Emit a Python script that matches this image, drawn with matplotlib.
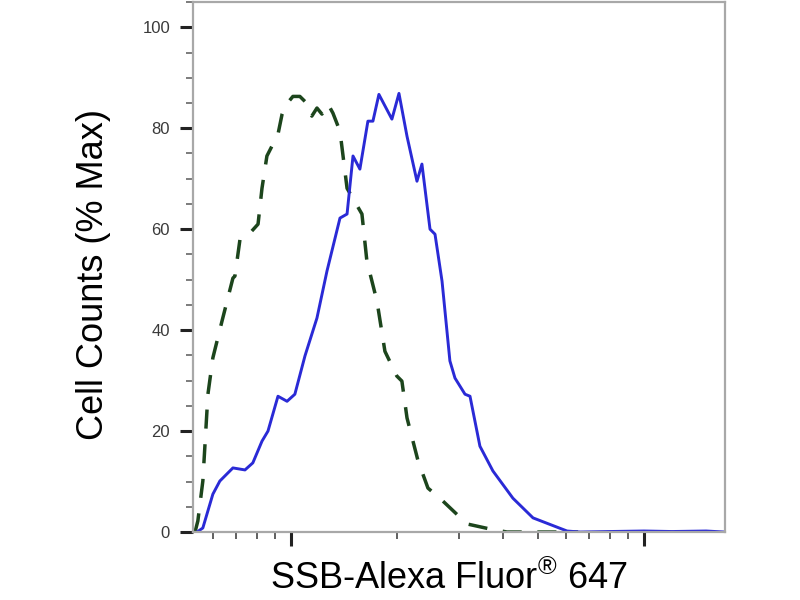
import matplotlib
matplotlib.use("Agg")
import matplotlib.pyplot as plt
from matplotlib.ticker import MultipleLocator, LogLocator, NullFormatter

plt.rcParams['font.family'] = ['Liberation Sans', 'DejaVu Sans']
plt.rcParams['mathtext.fontset'] = 'custom'
plt.rcParams['mathtext.rm'] = 'Liberation Sans'
plt.rcParams['mathtext.it'] = 'Liberation Sans'

# SSB stained sample (blue solid line)
ssb_x = [542, 563, 601, 629, 685, 741, 780, 828, 861, 919, 975, 1026, 1096,
         1185, 1265, 1377, 1442, 1499, 1568, 1652, 1707, 1775, 1932, 2023,
         2132, 2275, 2350, 2477, 2559, 2679, 2820, 2915, 3112, 3215, 3430,
         3733, 4253, 4849, 6054, 6590, 8000, 10000, 12000, 15000, 16900]
ssb_y = [0, 0.8, 7.5, 10.1, 12.7, 12.3, 13.7, 18.0, 20.0, 26.9, 25.9, 27.3,
         34.9, 42.4, 51.7, 62.2, 63.0, 74.5, 71.9, 81.4, 81.4, 86.7, 81.8,
         86.9, 78.4, 69.5, 72.9, 60.0, 59.0, 49.7, 33.9, 30.5, 27.3, 26.9,
         17.0, 12.1, 6.7, 2.8, 0.2, 0, 0.1, 0.2, 0.1, 0.2, 0]

# isotype / unstained control (green dashed line)
ctrl_x = [535, 545, 563, 582, 601, 638, 685, 694, 718, 765, 807, 828, 855,
          919, 944, 962, 1013, 1060, 1096, 1146, 1185, 1224, 1273, 1315, 1377,
          1442, 1589, 1641, 1753, 1846, 1995, 2062, 2132, 2291, 2444, 2642,
          3153, 3662, 4093, 5000, 6500]
ctrl_y = [0, 2.2, 10.1, 27.3, 34.5, 41.8, 50.3, 50.7, 58.2, 59.2, 61.0, 68.1,
          74.5, 78.8, 82.8, 84.4, 86.3, 86.3, 85.3, 82.4, 84.0, 82.8, 84.8,
          83.0, 79.4, 68.1, 63.0, 53.7, 45.7, 35.8, 30.9, 29.9, 22.6, 14.1,
          8.7, 6.7, 1.6, 0.6, 0, 0, 0]

fig = plt.figure(figsize=(8, 6), dpi=100)
ax = fig.add_axes([0.24125, 0.1133, 0.665, 0.8833])

ax.plot(ctrl_x, ctrl_y, color='#1c451c', lw=2.5, linestyle=(0, (5.5, 4.5)))
ax.plot(ssb_x, ssb_y, color='#2a2ad6', lw=2.1)

ax.set_xscale('log')
ax.set_xlim(528, 16960)
ax.set_ylim(0, 105)

ax.xaxis.set_major_locator(LogLocator(base=10, numticks=10))
ax.xaxis.set_minor_locator(LogLocator(base=10, subs=range(2, 10), numticks=20))
ax.xaxis.set_major_formatter(NullFormatter())
ax.xaxis.set_minor_formatter(NullFormatter())
ax.yaxis.set_major_locator(MultipleLocator(20))
ax.yaxis.set_minor_locator(MultipleLocator(5))

for s in ax.spines.values():
    s.set_color('#a8a8a8')
    s.set_linewidth(1.6)

ax.tick_params(axis='y', which='major', length=9.5, width=2.2, color='#222222',
               labelsize=12, labelcolor='#3a3a3a', pad=7)
ax.tick_params(axis='y', which='minor', length=5, width=1.2, color='#666666')
ax.tick_params(axis='x', which='major', length=10, width=2.2, color='#222222')
ax.tick_params(axis='x', which='minor', length=5, width=1.2, color='#444444')

ax.set_ylabel('Cell Counts (% Max)', fontsize=26)
ax.yaxis.set_label_coords(-0.155, 0.485)
ax.set_xlabel('SSB-Alexa Fluor$^{®}$ 647', fontsize=26)
ax.xaxis.set_label_coords(0.48, -0.055)

fig.savefig('out.png', dpi=100)
